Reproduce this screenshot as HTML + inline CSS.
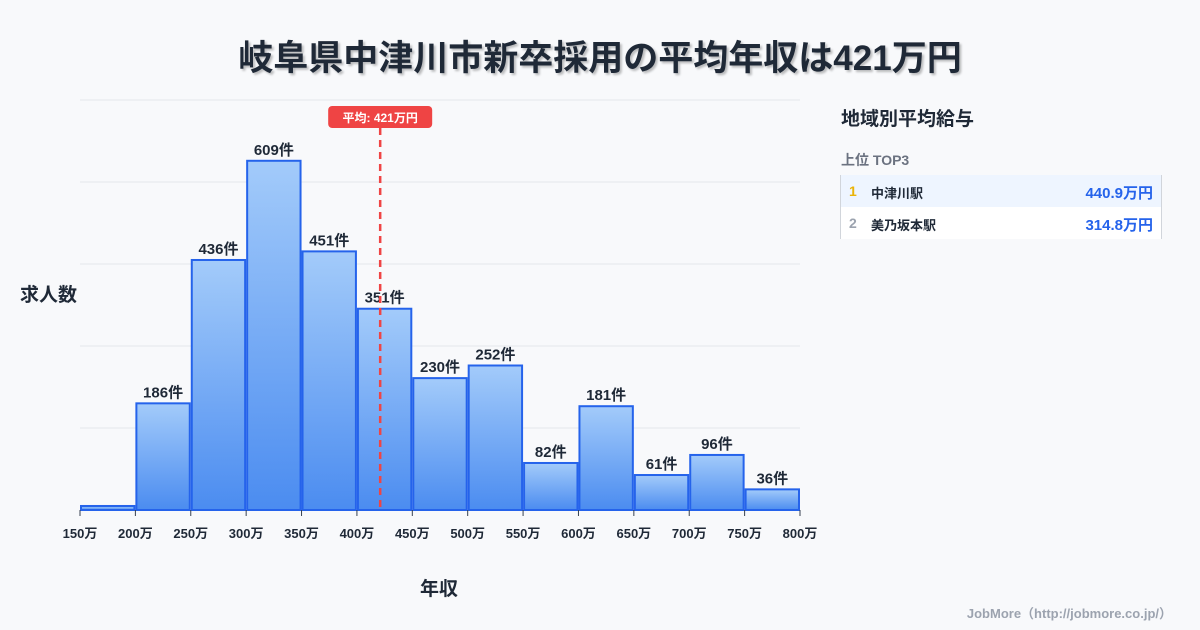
<!DOCTYPE html>
<html><head><meta charset="utf-8"><style>
body{margin:0;width:1200px;height:630px;background:#f8f9fb;font-family:"Liberation Sans","Noto Sans CJK JP",sans-serif;overflow:hidden;position:relative}
.t{position:absolute;white-space:nowrap}
</style></head><body>
<div class="t" style="left:0;width:1200px;text-align:center;top:30px;font-size:35px;font-weight:bold;color:#1f2937;text-shadow:2px 2px 2px rgba(0,0,0,0.25)">岐阜県中津川市新卒採用の平均年収は421万円</div>
<svg id="chart" width="1200" height="630" style="position:absolute;left:0;top:0">
<defs><linearGradient id="g" x1="0" y1="0" x2="0" y2="1"><stop offset="0" stop-color="#a3cbfa"/><stop offset="1" stop-color="#4b8cf0"/></linearGradient></defs>
</svg>
<div class="t" style="left:20px;top:280px;font-size:19px;font-weight:bold;color:#1f2937">求人数</div>
<div class="t" style="left:420px;top:574px;font-size:19px;font-weight:bold;color:#1f2937">年収</div>
<div class="t" style="left:841px;top:104px;font-size:19px;font-weight:bold;color:#1f2937">地域別平均給与</div>
<div class="t" style="left:841px;top:150px;font-size:14px;font-weight:bold;color:#6b7280">上位 TOP3</div>
<div style="position:absolute;left:840px;top:175px;width:320px;border-left:1px solid #d1d5db;border-right:1px solid #d1d5db">
<div style="height:32px;background:#eef5ff;position:relative;font-size:13px;font-weight:bold">
<span class="t" style="left:8px;top:8px;color:#eab308;font-size:14px">1</span><span class="t" style="left:30px;top:8px;color:#1f2937">中津川駅</span><span class="t" style="right:8px;top:7px;color:#2563eb;font-size:15px">440.9万円</span></div>
<div style="height:32px;background:#fff;position:relative;font-size:13px;font-weight:bold">
<span class="t" style="left:8px;top:8px;color:#9ca3af;font-size:14px">2</span><span class="t" style="left:30px;top:8px;color:#1f2937">美乃坂本駅</span><span class="t" style="right:8px;top:7px;color:#2563eb;font-size:15px">314.8万円</span></div>
</div>
<div class="t" style="right:28px;top:603px;font-size:13px;font-weight:bold;color:#9ca3af">JobMore（http://jobmore.co.jp/）</div>
<script>
const binStarts=[150,200,250,300,350,400,450,500,550,600,650,700,750];
const counts=[7,186,436,609,451,351,230,252,82,181,61,96,36];
const tickLabels=[150,200,250,300,350,400,450,500,550,600,650,700,750,800];
const avgValue=421;
const NS="http://www.w3.org/2000/svg";
const svg=document.getElementById('chart');
const X=v=>80+(v-150)*720/650;
const Y=v=>510-v*410/715;
function mk(t,a){const e=document.createElementNS(NS,t);for(const k in a)e.setAttribute(k,a[k]);svg.appendChild(e);return e;}
for(let i=0;i<=5;i++){const gl=mk('line',{x1:80,x2:800,y1:Y(i*143),y2:Y(i*143),stroke:'#e5e7eb','stroke-width':1});

}
binStarts.forEach((b,i)=>{
const x0=X(b),x1=X(b+50),y=Y(counts[i]);
const r=mk('rect',{x:x0+1,y:y,width:x1-x0-2,height:510-y,fill:'url(#g)',stroke:'#2563eb','stroke-width':2});


if(counts[i]>=20){const t=mk('text',{x:(x0+x1)/2,y:y-6,'text-anchor':'middle','font-size':15,'font-weight':'bold',fill:'#1f2937'});t.textContent=counts[i]+'件';

}
});
tickLabels.forEach(v=>{
const tk=mk('line',{x1:X(v),x2:X(v),y1:510,y2:516,stroke:'#374151','stroke-width':1});


const t=mk('text',{x:X(v),y:538,'text-anchor':'middle','font-size':13,'font-weight':'bold',fill:'#1f2937'});t.textContent=v+'万';


});
const ax=X(avgValue);
const al=mk('line',{x1:ax,x2:ax,y1:128,y2:510,stroke:'#ef4444','stroke-width':2.5,'stroke-dasharray':'7,5'});


const ab=mk('rect',{x:ax-52,y:106,width:104,height:22,rx:4,fill:'#ef4444'});


const at=mk('text',{x:ax,y:122,'text-anchor':'middle','font-size':12,'font-weight':'bold',fill:'#fff'});at.textContent='平均: '+avgValue+'万円';


</script>
</body></html>
